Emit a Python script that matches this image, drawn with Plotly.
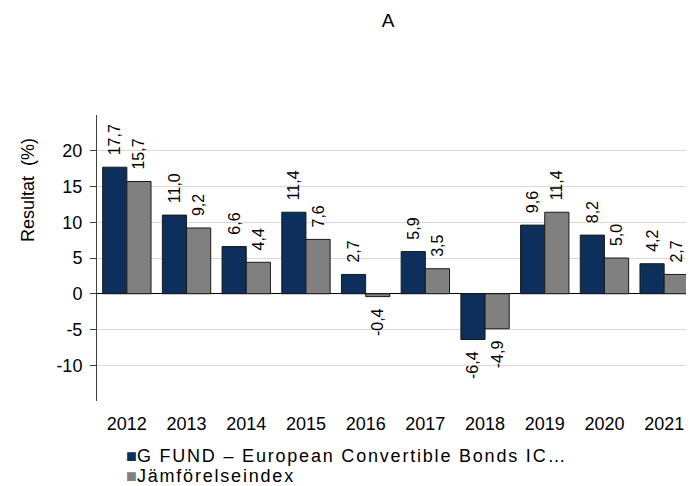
import plotly.graph_objects as go

years = ["2012", "2013", "2014", "2015", "2016", "2017", "2018", "2019", "2020", "2021"]
fund = [17.7, 11.0, 6.6, 11.4, 2.7, 5.9, -6.4, 9.6, 8.2, 4.2]
index = [15.7, 9.2, 4.4, 7.6, -0.4, 3.5, -4.9, 11.4, 5.0, 2.7]
fund_name = "G FUND – European Convertible Bonds IC…"
index_name = "Jämförelseindex"
ytick_vals = [-10, -5, 0, 5, 10, 15, 20]
ytick_text = ["-10", "-5", "0", "5", "10", "15", "20"]

FONT = "Liberation Sans, Arial, sans-serif"
NAVY = "#0D2F5C"
GREY = "#808080"

# page body has an 8px default margin; positions below are in figure pixels
L, R, T, B = 89, 8, 107, 93
W, H = 694, 486
PH = H - T - B
PW = W - L - R

def px_x(x):
    return (x - L) / PW

def px_y(y):
    return (H - B - y) / PH

def fmt(v):
    s = f"{v:.1f}".replace(".", ",")
    return "  " + s if v >= 0 else s + "  "

fig = go.Figure()
for name, vals, color in [(fund_name, fund, NAVY), (index_name, index, GREY)]:
    fig.add_trace(go.Bar(
        x=years, y=vals, name=name,
        marker=dict(color=color, line=dict(color="#1a1a1a", width=1)),
        text=[fmt(v) for v in vals], textposition="outside", textangle=-90,
        textfont=dict(family=FONT, size=16, color="#000"),
        constraintext="none", cliponaxis=False,
    ))

legend_ann = []
for i, (name, color) in enumerate([(fund_name, NAVY), (index_name, GREY)]):
    legend_ann.append(dict(
        text=f"<span style='color:{color}'>■</span><span style='letter-spacing:1.8px'>{name}</span>",
        xref="paper", yref="paper", x=px_x(116), y=px_y(448 + 20 * i),
        xanchor="left", yanchor="middle", showarrow=False,
        font=dict(family=FONT, size=18, color="#000")))

fig.update_layout(
    width=W, height=H,
    paper_bgcolor="white", plot_bgcolor="white",
    margin=dict(l=L, r=R, t=T, b=B),
    barmode="group", bargap=0.19, bargroupgap=0,
    font=dict(family=FONT, size=18, color="#000"),
    title=dict(text="A", x=380 / W, xanchor="center", xref="container",
               y=1 - 12 / H, yanchor="middle", yref="container",
               font=dict(size=19, color="#000")),
    showlegend=False,
    xaxis=dict(showline=False, ticks="", tickfont=dict(size=18), automargin=False,
               ticklabelstandoff=10),
    yaxis=dict(range=[-15, 25], tickvals=ytick_vals, ticktext=ytick_text,
               showgrid=True, gridcolor="#d9d9d9",
               gridwidth=1, zeroline=True, zerolinecolor="#000", zerolinewidth=1,
               showline=True, linecolor="#404040", linewidth=1, ticks="outside",
               ticklen=6, tickcolor="#404040", tickfont=dict(size=18),
               automargin=False, ticklabelstandoff=4),
    annotations=[dict(text="Resultat  (%)", textangle=-90, xref="paper", yref="paper",
                      x=px_x(20), y=px_y(182), xanchor="center",
                      yanchor="middle", showarrow=False, font=dict(size=18))] + legend_ann,
)
fig.write_html("out.html")
